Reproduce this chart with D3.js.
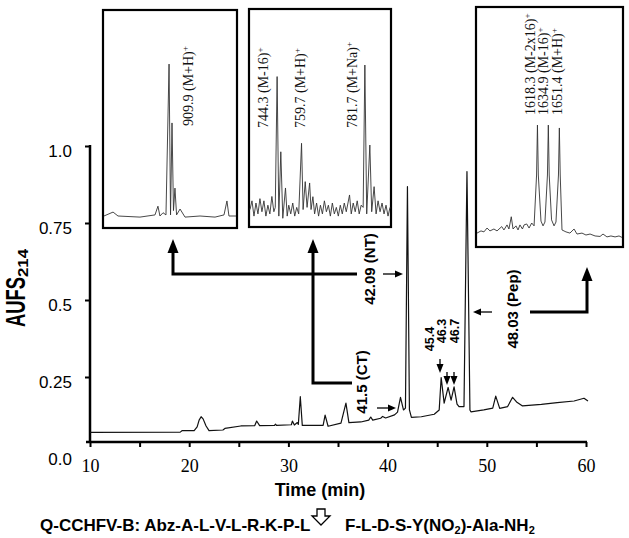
<!DOCTYPE html>
<html>
<head>
<meta charset="utf-8">
<script src="https://cdn.jsdelivr.net/npm/d3@7"></script>
<style>
  body { margin: 0; background: #fff; }
  svg { display: block; }
</style>
</head>
<body>
<script>
const width = 629;
const height = 538;

// ---- data ----
// chromatogram: time (min) vs absorbance (AUFS 214 nm)
const time = [10.0, 19.1, 19.3, 20.5, 20.8, 21.0, 21.2, 21.4, 21.7, 22.0, 23.4, 23.6, 25.2, 26.6, 26.8, 27.1,
  28.6, 28.7, 28.8, 30.3, 30.4, 30.6, 30.9, 31.0, 31.2, 31.4, 33.5, 33.7, 34.0, 35.3, 35.8, 36.1,
  37.3, 38.1, 38.3, 38.5, 39.3, 39.5, 39.8, 40.7, 41.0, 41.3, 41.6, 41.8, 42.0, 42.2, 42.4, 43.4,
  44.7, 45.2, 45.4, 45.7, 46.1, 46.4, 46.7, 47.0, 47.2, 47.7, 48.0, 48.3, 48.4, 49.7, 50.6, 50.9,
  51.3, 52.1, 52.6, 53.0, 53.6, 55.5, 57.1, 58.8, 59.8, 60.2];
const aufs = [0.070, 0.071, 0.076, 0.076, 0.088, 0.110, 0.121, 0.114, 0.091, 0.076, 0.078, 0.083, 0.091, 0.092, 0.107, 0.092,
  0.093, 0.097, 0.093, 0.095, 0.107, 0.094, 0.102, 0.096, 0.186, 0.093, 0.093, 0.126, 0.090, 0.100, 0.165, 0.102,
  0.104, 0.110, 0.120, 0.110, 0.116, 0.122, 0.117, 0.127, 0.136, 0.184, 0.143, 0.149, 0.868, 0.143, 0.119, 0.121,
  0.129, 0.143, 0.248, 0.165, 0.216, 0.175, 0.218, 0.162, 0.154, 0.154, 0.917, 0.143, 0.137, 0.143, 0.149, 0.188,
  0.148, 0.154, 0.184, 0.169, 0.156, 0.161, 0.167, 0.172, 0.181, 0.172];

const xTicks = [10, 15, 20, 25, 30, 35, 40, 45, 50, 55, 60];
const yTicks = [0, 0.25, 0.5, 0.75, 1.0];
const yTickLabels = ["0.0", "0.25", "0.5", "0.75", "1.0"];

// mass spectra insets (relative position 0-100 across box, relative intensity 0-100)
const ms1X = [0.7, 7.5, 11.2, 27.6, 38.8, 41, 42.5, 44.8, 47, 49.3, 50.4, 51.5, 52.6, 53.7, 54.9, 57.5, 61.2, 72.4, 83.6, 90.3, 92.5, 94, 99.3];
const ms1Y = [5.5, 7.3, 5.5, 5.0, 6, 10, 5.5, 7, 6, 75.2, 6, 48.2, 8, 18.3, 6, 8.7, 5, 5.5, 5, 6, 12.4, 5.5, 5.5];
const ms1Labels = ["909.9 (M+H)"];

const ms2X = [0.7, 2.1, 3.5, 4.9, 6.3, 7.7, 9.1, 10.5, 11.9, 13.3, 14.7, 16.1, 17.5, 18.5, 19.8, 21, 22.4, 23.8, 25.7, 26.9,
  28, 29.4, 30.8, 32.2, 33.6, 35, 37, 38.1, 39.6, 40.9, 42.7, 43.7, 45, 46.2, 47.6, 49, 50.3, 51.7, 53.1, 54.5,
  55.9, 57.3, 58.7, 60.1, 61.5, 62.9, 64.3, 65.7, 67.1, 68.5, 70.8, 72, 73.4, 74.8, 76.2, 77.6, 79, 80.4, 81.6, 82.9,
  85.1, 86.4, 88.1, 89.5, 90.9, 92.3, 93.7, 95.1, 96.5, 97.9, 99.3];
const ms2Y = [8, 12, 5, 11, 6, 13, 7, 12, 5, 10, 6, 14, 7, 9, 69, 5, 34.5, 4, 17.9, 5,
  10, 6, 11, 5, 9, 6, 38.4, 8, 20.8, 9, 20.2, 8, 13.9, 6, 11, 5, 10, 6, 12, 7,
  10, 5, 11, 6, 9, 5, 10, 6, 11, 7, 14.7, 6, 11, 7, 12, 6, 10, 9, 74.3, 6,
  37.6, 7, 18.5, 6, 12, 7, 11, 6, 10, 5, 9];
const ms2Labels = ["744.3 (M-16)", "759.7 (M+H)", "781.7 (M+Na)"];

const ms3X = [0.7, 3.4, 5.4, 7.5, 9.5, 12.2, 14.3, 17.5, 19, 21.1, 22.4, 24, 25.2, 27.2, 28.6, 29.9, 31.6, 32.7, 34.5, 36.1,
  37.9, 39.5, 41.2, 41.8, 42.4, 44.2, 45.6, 46.9, 48.6, 49.2, 49.8, 51.4, 53.1, 54.4, 56.1, 56.7, 57.3, 58.5, 61.2, 63.9,
  66.7, 68.7, 72.1, 74.8, 77.6, 81, 84.4, 86.4, 89.1, 91.8, 94.6, 97.3, 99.3];
const ms3Y = [5.8, 6.7, 6.3, 7.9, 6.7, 7.5, 6.7, 8.5, 7.1, 9.2, 7.5, 12.6, 7.5, 8.8, 7.1, 9.2, 7.5, 9.2, 9.6, 7.9,
  10, 8.8, 30, 50.8, 30, 10.8, 8.8, 10.4, 30, 50.8, 30, 11.3, 8.8, 10.4, 30, 49.6, 30, 7.1, 6.3, 5.8,
  7.5, 5.4, 5.8, 5, 5.4, 4.6, 4.4, 5.4, 4.2, 4.6, 4.2, 4.6, 4];
const ms3Labels = ["1618.3 (M-2x16)", "1634.9 (M-16)", "1651.4 (M+H)"];

// ---- layout ----
const svg = d3.select("body").append("svg");
svg.attr("width", width);
svg.attr("height", height);

const x = d3.scaleLinear().domain([10, 60]).range([90, 586]);
const y = d3.scaleLinear().domain([0, 1]).range([454, 146]);
const axisY = 442; // the time axis sits a little above the 0.0 label in the figure

const sans = "'Liberation Sans', Arial, sans-serif";
const serif = "'Liberation Serif', 'Times New Roman', serif";

// x axis
const gx = svg.append("g").attr("transform", "translate(0," + axisY + ")")
  .call(d3.axisBottom(x).tickValues(xTicks).tickSize(5).tickSizeOuter(0).tickPadding(12)
    .tickFormat((d) => (d % 10 === 0 ? d : "")));
gx.select(".domain").remove();
gx.selectAll(".tick line").attr("stroke", "#000").attr("stroke-width", 2);
gx.selectAll(".tick text").attr("font-family", serif).attr("font-size", 18).attr("fill", "#000");
svg.append("line").attr("x1", 86).attr("x2", 587).attr("y1", axisY).attr("y2", axisY)
  .attr("stroke", "#000").attr("stroke-width", 2.5);

// y axis
const gy = svg.append("g").attr("transform", "translate(90,0)")
  .call(d3.axisLeft(y).tickValues(yTicks).tickSize(5).tickSizeOuter(0).tickPadding(13)
    .tickFormat((d, i) => yTickLabels[i]));
gy.select(".domain").remove();
gy.selectAll(".tick line").attr("stroke", "#000").attr("stroke-width", 2)
  .filter((d) => d === 0).remove();
gy.selectAll(".tick text").attr("font-family", sans).attr("font-size", 17).attr("fill", "#000").attr("dy", "0.6em");
svg.append("line").attr("x1", 90).attr("x2", 90).attr("y1", y(1) - 1).attr("y2", axisY)
  .attr("stroke", "#000").attr("stroke-width", 2.5);

// axis titles
svg.append("text").attr("x", 320).attr("y", 496).attr("text-anchor", "middle")
  .attr("font-family", sans).attr("font-weight", "bold").attr("font-size", 18).text("Time (min)");
svg.append("text").attr("transform", "translate(25,327) rotate(-90)")
  .attr("font-family", sans).attr("font-weight", "bold").attr("font-size", 28)
  .attr("textLength", 50).attr("lengthAdjust", "spacingAndGlyphs").text("AUFS");
svg.append("text").attr("transform", "translate(28,277) rotate(-90)")
  .attr("font-family", sans).attr("font-weight", "bold").attr("font-size", 15)
  .attr("textLength", 28).attr("lengthAdjust", "spacingAndGlyphs").text("214");

// chromatogram trace
svg.append("path")
  .datum(d3.zip(time, aufs))
  .attr("d", d3.line().x((d) => x(d[0])).y((d) => y(d[1])))
  .attr("fill", "none").attr("stroke", "#111").attr("stroke-width", 1.2).attr("stroke-linejoin", "round");

// ---- insets ----
const renderInset = (selection, box, xs, ys, labels, labelX, labelBottom) => {
  const g = selection.append("g");
  const sx = d3.scaleLinear().domain([0, 100]).range([box[0], box[2]]);
  const sy = d3.scaleLinear().domain([0, 100]).range([box[3], box[1]]);
  g.append("rect").attr("x", box[0]).attr("y", box[1])
    .attr("width", box[2] - box[0]).attr("height", box[3] - box[1])
    .attr("fill", "#fff").attr("stroke", "#000").attr("stroke-width", 2.2);
  g.append("path")
    .datum(d3.zip(xs, ys))
    .attr("d", d3.line().x((d) => sx(d[0])).y((d) => sy(d[1])))
    .attr("fill", "none").attr("stroke", "#333").attr("stroke-width", 0.9);
  labels.forEach((lab, i) => {
    const t = g.append("text")
      .attr("transform", "translate(" + labelX[i] + "," + labelBottom + ") rotate(-90)")
      .attr("dy", "0.33em")
      .attr("font-family", serif).attr("font-size", 14).attr("fill", "#111");
    t.append("tspan").text(lab);
    t.append("tspan").attr("dy", "-0.55em").attr("font-size", 9).text("+");
  });
};

svg.call(renderInset, [103, 10, 237, 228], ms1X, ms1Y, ms1Labels, [188], 126);
svg.call(renderInset, [249, 9, 391, 227], ms2X, ms2Y, ms2Labels, [263, 300, 352], 128);
svg.call(renderInset, [476, 7, 623, 247], ms3X, ms3Y, ms3Labels, [530, 543.5, 557], 115);

// ---- arrows and peak labels ----
const drawArrow = (selection, pts, sw, len, w) => {
  const [xa, ya] = pts[pts.length - 2];
  const [xb, yb] = pts[pts.length - 1];
  const a = Math.atan2(yb - ya, xb - xa);
  const c = Math.cos(a), s = Math.sin(a);
  const end = [xb - c * len * 0.8, yb - s * len * 0.8];
  selection.append("path")
    .attr("d", d3.line()(pts.slice(0, -1).concat([end])))
    .attr("fill", "none").attr("stroke", "#000").attr("stroke-width", sw);
  const bx = xb - c * len, by = yb - s * len;
  selection.append("path")
    .attr("d", d3.line()([[xb, yb], [bx - s * w / 2, by + c * w / 2], [bx + s * w / 2, by - c * w / 2]]) + "Z")
    .attr("fill", "#000");
};

// big connectors from peaks to spectra
drawArrow(svg, [[357, 274], [173, 274], [173, 239]], 3, 14, 11);
drawArrow(svg, [[352, 383], [313, 383], [313, 239]], 3, 14, 11);
drawArrow(svg, [[530, 312], [587, 312], [587, 267]], 3, 14, 11);

// small pointers
drawArrow(svg, [[383, 274], [403, 274]], 1.3, 8, 7);
drawArrow(svg, [[377, 408], [396, 408]], 1.3, 8, 7);
drawArrow(svg, [[492, 312], [473, 312]], 1.3, 8, 7);
drawArrow(svg, [[440, 359], [440, 373]], 1.3, 9, 7);
drawArrow(svg, [[447, 372], [447, 385]], 1.3, 9, 7);
drawArrow(svg, [[454, 372], [454, 385]], 1.3, 9, 7);

const peakLabels = [
  { text: "42.09 (NT)", x: 370, y: 269, size: 15 },
  { text: "41.5 (CT)", x: 362, y: 382, size: 15 },
  { text: "48.03 (Pep)", x: 513, y: 309, size: 15 },
  { text: "45.4", x: 429, y: 339, size: 12.5 },
  { text: "46.3", x: 441, y: 331, size: 12.5 },
  { text: "46.7", x: 454, y: 331, size: 12.5 },
];
svg.selectAll("text.peak")
  .data(peakLabels)
  .join("text")
  .attr("class", "peak")
  .attr("transform", (d) => "translate(" + d.x + "," + d.y + ") rotate(-90)")
  .attr("dy", "0.36em")
  .attr("text-anchor", "middle")
  .attr("font-family", sans).attr("font-weight", "bold")
  .attr("font-size", (d) => d.size)
  .text((d) => d.text);

// ---- substrate sequence with cleavage site ----
svg.append("text").attr("x", 40).attr("y", 531)
  .attr("font-family", sans).attr("font-weight", "bold").attr("font-size", 17)
  .text("Q-CCHFV-B: Abz-A-L-V-L-R-K-P-L");
svg.append("path")
  .attr("d", "M317,509 H325 V516 H330 L321,525 L312,516 H317 Z")
  .attr("fill", "#fff").attr("stroke", "#000").attr("stroke-width", 1.3);
const seq2 = svg.append("text").attr("x", 345).attr("y", 531)
  .attr("font-family", sans).attr("font-weight", "bold").attr("font-size", 17);
seq2.append("tspan").text("F-L-D-S-Y(NO");
seq2.append("tspan").attr("dy", 3).attr("font-size", 11).text("2");
seq2.append("tspan").attr("dy", -3).text(")-Ala-NH");
seq2.append("tspan").attr("dy", 3).attr("font-size", 11).text("2");
</script>
</body>
</html>
